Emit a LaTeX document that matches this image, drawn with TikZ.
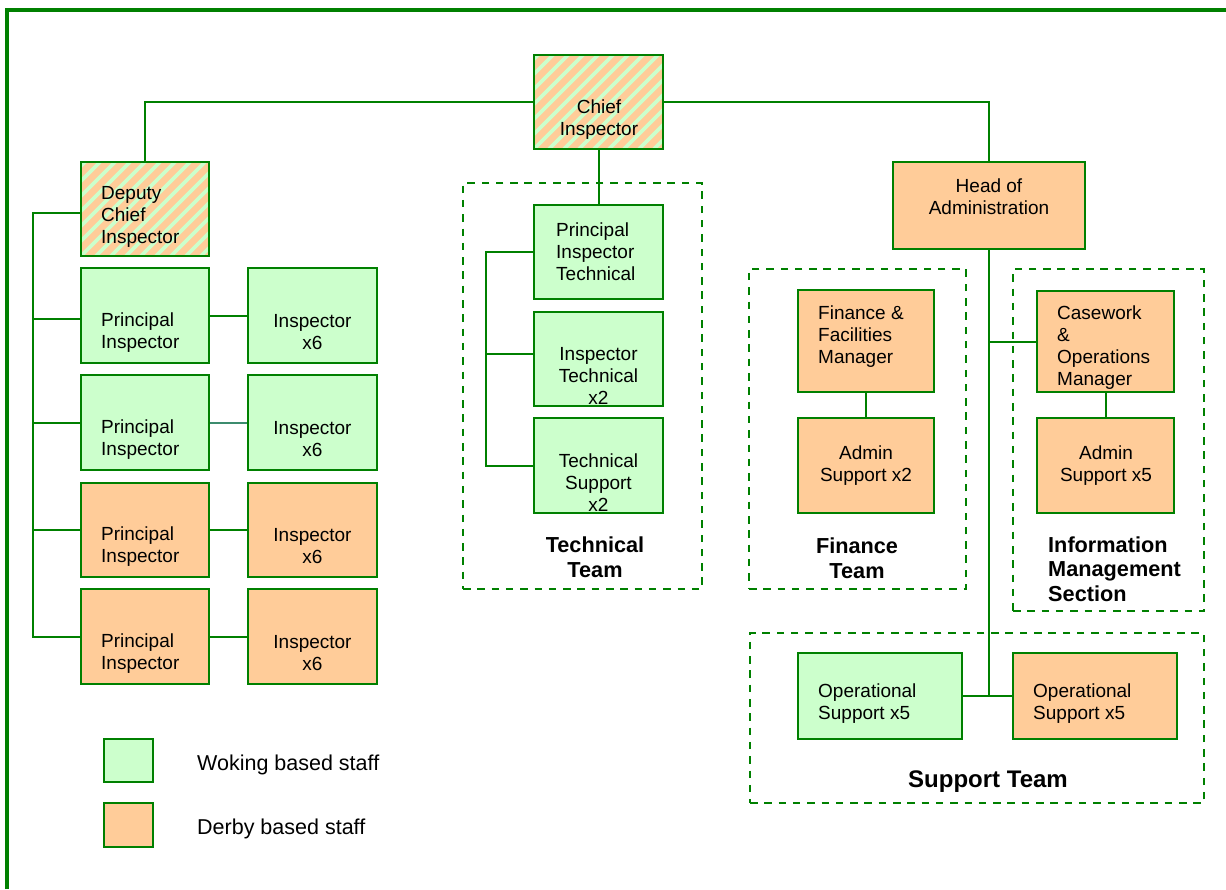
\documentclass[tikz,border=0pt]{standalone}
\usepackage{fontspec}
\setmainfont{Liberation Sans}
\definecolor{dgreen}{RGB}{0,128,0}
\definecolor{wgreen}{RGB}{204,255,204}
\definecolor{dorange}{RGB}{255,204,153}
\definecolor{tealink}{RGB}{60,140,110}
\begin{document}
\begin{tikzpicture}[x=1pt,y=-1pt,font=\fontsize{19}{22}\selectfont,
  box/.style={draw=dgreen,line width=2pt,inner sep=0pt,minimum width=129pt,minimum height=94pt},
  wok/.style={box,fill=wgreen},
  der/.style={box,fill=dorange},
  mixed/.style={box,fill=dorange,path picture={
    \foreach \i in {-120,-105,...,150}
      \draw[wgreen,line width=3.6pt] ([xshift=\i pt]path picture bounding box.south west) -- ++(150pt,150pt);}},
  txt/.style={inner sep=0pt,align=center,yshift=-2.5pt},
  ltxt/.style={inner sep=0pt,align=left,anchor=west,yshift=-2.5pt},
  team/.style={draw=dgreen,line width=2pt,dash pattern=on 7.5pt off 6.8pt,inner sep=0pt},
  teamlbl/.style={inner sep=0pt,align=center,font=\fontsize{21.7}{24.5}\selectfont\bfseries},
  link/.style={draw=dgreen,line width=2pt}]
  \useasboundingbox (0,0) rectangle (1226,889);
  % frame
  \draw[dgreen,line width=4pt] (7,889) |- (1226,10);
  % team boxes
  \node[team,minimum width=239pt,minimum height=406pt] (techteam) at (582.5,386) {};
  \node[team,minimum width=217pt,minimum height=320pt] (finteam) at (857.5,429) {};
  \node[team,minimum width=191pt,minimum height=342pt] (imsteam) at (1108.5,440) {};
  \node[team,minimum width=454pt,minimum height=170pt] (supteam) at (977,718) {};
  \node[teamlbl] (techlbl) at (595,557) {Technical\\Team};
  \node[teamlbl] (finlbl) at (857,558) {Finance\\Team};
  \node[teamlbl,align=left,anchor=west] (imslbl) at (1048,569) {Information\\Management\\Section};
  \node[teamlbl,font=\fontsize{24}{28}\selectfont\bfseries] (suplbl) at (988,782) {Support Team};
  % top
  \node[mixed] (chief) at (598.5,102) {};
  \node[txt] (chiefT) at (599,117) {Chief\\Inspector};
  \node[mixed,minimum width=128pt] (dci) at (145,209) {};
  \node[ltxt] (dciT) at (101,214) {Deputy\\Chief\\Inspector};
  \node[der,minimum width=192pt,minimum height=87pt] (head) at (989,205.5) {};
  \node[txt] (headT) at (989,194) {Head of\\Administration};
  % inspectors
  \node[wok,minimum width=128pt,minimum height=95pt] (pi1) at (145,315.5) {};
  \node[wok,minimum width=128pt,minimum height=95pt] (pi2) at (145,422.5) {};
  \node[der,minimum width=128pt] (pi3) at (145,530) {};
  \node[der,minimum width=128pt,minimum height=95pt] (pi4) at (145,636.5) {};
  \node[wok,minimum height=95pt] (ins1) at (312.5,315.5) {};
  \node[wok,minimum height=95pt] (ins2) at (312.5,422.5) {};
  \node[der] (ins3) at (312.5,530) {};
  \node[der,minimum height=95pt] (ins4) at (312.5,636.5) {};
  \node[ltxt] (pi1T) at (101,330) {Principal\\Inspector};
  \node[ltxt] (pi2T) at (101,437) {Principal\\Inspector};
  \node[ltxt] (pi3T) at (101,544) {Principal\\Inspector};
  \node[ltxt] (pi4T) at (101,651) {Principal\\Inspector};
  \node[txt] (ins1T) at (312.5,330) {Inspector\\x6};
  \node[txt] (ins2T) at (312.5,437) {Inspector\\x6};
  \node[txt] (ins3T) at (312.5,544) {Inspector\\x6};
  \node[txt] (ins4T) at (312.5,651) {Inspector\\x6};
  % technical
  \node[wok] (pit) at (598.5,252) {};
  \node[wok] (itech) at (598.5,359) {};
  \node[wok,minimum height=95pt] (tsup) at (598.5,465.5) {};
  \node[ltxt] (pitT) at (556,249) {Principal\\Inspector\\Technical};
  \node[txt] (itechT) at (598.5,373) {Inspector\\Technical\\x2};
  \node[txt] (tsupT) at (598.5,480) {Technical\\Support\\x2};
  % admin
  \node[der,minimum width=136pt,minimum height=102pt] (ffm) at (866,341) {};
  \node[der,minimum width=136pt,minimum height=95pt] (adm2) at (866,465.5) {};
  \node[der,minimum width=137pt,minimum height=101pt] (cwm) at (1105.5,341.5) {};
  \node[der,minimum width=137pt,minimum height=95pt] (adm5) at (1105.5,465.5) {};
  \node[ltxt] (ffmT) at (818,334) {Finance \&\\Facilities\\Manager};
  \node[txt] (adm2T) at (866,463) {Admin\\Support x2};
  \node[ltxt] (cwmT) at (1057,345) {Casework\\\&\\Operations\\Manager};
  \node[txt] (adm5T) at (1106,463) {Admin\\Support x5};
  \node[wok,minimum width=164pt,minimum height=86pt] (ops1) at (880,696) {};
  \node[der,minimum width=164pt,minimum height=86pt] (ops2) at (1095,696) {};
  \node[ltxt] (ops1T) at (818,701) {Operational\\Support x5};
  \node[ltxt] (ops2T) at (1033,701) {Operational\\Support x5};
  % legend
  \node[wok,minimum width=49pt,minimum height=43pt] (legW) at (128.5,760.5) {};
  \node[der,minimum width=49pt,minimum height=44pt] (legD) at (128.5,825) {};
  \node[ltxt,font=\fontsize{21.5}{24}\selectfont] (legWT) at (197,762) {Woking based staff};
  \node[ltxt,font=\fontsize{21.5}{24}\selectfont] (legDT) at (197,826) {Derby based staff};
  % links
  \coordinate (lbus) at (33,0);
  \coordinate (tbus) at (486,0);
  \draw[link] (dci.north) |- (chief.west);
  \draw[link] (chief.east) -| (head.north);
  \draw[link] (chief.south) -- (pit.north);
  \draw[link] ([yshift=-4pt]dci.west) -| (lbus |- pi4.west) -- (pi4.west);
  \draw[link] (lbus |- pi1.west) ++(0,3.5) -- ([yshift=-3.5pt]pi1.west);
  \foreach \b in {pi2,pi3}
    \draw[link] (lbus |- \b.west) -- (\b.west);
  \draw[link] (pi1) -- (ins1);
  \draw[link,tealink] (pi2) -- (ins2);
  \draw[link] (pi3) -- (ins3);
  \draw[link] (pi4) -- (ins4);
  \draw[link] (pit.west) -| (tbus |- tsup.west) -- (tsup.west);
  \draw[link] (tbus |- itech.west) ++(0,-5) -- ([yshift=5pt]itech.west);
  \draw[link] (head.south) -- (head.south |- ops1.east);
  \draw[link] (ops1.east) -- (ops2.west);
  \draw[link] (head.south |- cwm.west) -- (cwm.west);
  \draw[link] (ffm.south) -- (adm2.north);
  \draw[link] (cwm.south) -- (adm5.north);
\end{tikzpicture}
\end{document}
